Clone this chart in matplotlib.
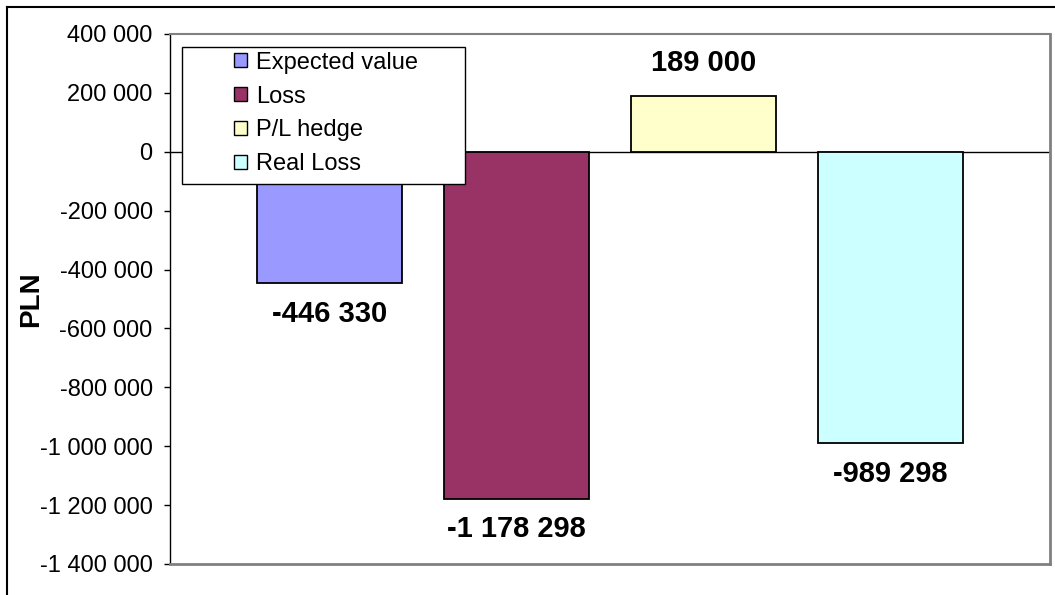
import matplotlib
matplotlib.use('Agg')
import matplotlib.pyplot as plt
from matplotlib.patches import Patch, Rectangle
from matplotlib.lines import Line2D
import numpy as np

series = ['Expected value', 'Loss', 'P/L hedge', 'Real Loss']
values = [-446330, -1178298, 189000, -989298]
colors = ['#9999FF', '#993366', '#FFFFCC', '#CCFFFF']
yticks = np.arange(-1400000, 400001, 200000)


def fmt(v):
    return '{:,}'.format(int(v)).replace(',', ' ')


plt.rcParams['font.family'] = ['Liberation Sans', 'DejaVu Sans']

fig = plt.figure(figsize=(10.55, 5.95), dpi=100)
ax = fig.add_axes([170/1055, 1-564/595, 880/1055, 530/595])

x = np.arange(len(values))
ax.bar(x, values, width=0.775, color=colors, edgecolor='black', linewidth=1.3, zorder=3)
ax.axhline(0, color='black', linewidth=1, zorder=2)

# data labels
for xi, v in zip(x, values):
    off = 24 if v > 0 else -22
    ax.annotate(fmt(v), (xi, v), xytext=(0, off), textcoords='offset points',
                ha='center', va='center', fontsize=21, fontweight='bold', zorder=5)

ax.set_xlim(-0.856, 3.856)
ax.set_ylim(-1400000, 400000)
ax.set_xticks([])
ax.set_yticks(yticks)
ax.set_yticklabels([fmt(t) for t in yticks], fontsize=17)
ax.tick_params(axis='y', direction='out', length=4.5, width=1, pad=8)
ax.set_ylabel('PLN', fontsize=20, fontweight='bold')
ax.yaxis.set_label_coords(-0.143, 0.5)

ax.spines['left'].set_color('black')
ax.spines['left'].set_linewidth(1)
for s in ['top', 'right', 'bottom']:
    ax.spines[s].set_color('#808080')
ax.spines['top'].set_linewidth(1.5)
ax.spines['right'].set_linewidth(2)
ax.spines['bottom'].set_linewidth(2)

# legend box
bx0, by0 = (182-170)/880, (564-184)/530
bw, bh = (465-182)/880, (184-47)/530
ax.add_patch(Rectangle((bx0, by0), bw, bh, transform=ax.transAxes, facecolor='white',
                       edgecolor='black', linewidth=1, zorder=6))
handles = [Patch(facecolor=c, edgecolor='black', linewidth=1) for c in colors]
leg = ax.legend(handles, series, loc='upper left', frameon=False, fontsize=17,
                bbox_to_anchor=((229-170)/880, (564-47)/530), borderaxespad=0,
                borderpad=0.2, handlelength=0.55, handleheight=0.55,
                handletextpad=0.38, labelspacing=0.5)
leg.set_zorder(7)

# outer chart border (top and left visible)
fig.add_artist(Line2D([7/1055, 1], [1-7/595, 1-7/595], color='black', linewidth=1.5))
fig.add_artist(Line2D([7/1055, 7/1055], [0, 1-7/595], color='black', linewidth=1.5))

fig.savefig('out.png', dpi=100)
